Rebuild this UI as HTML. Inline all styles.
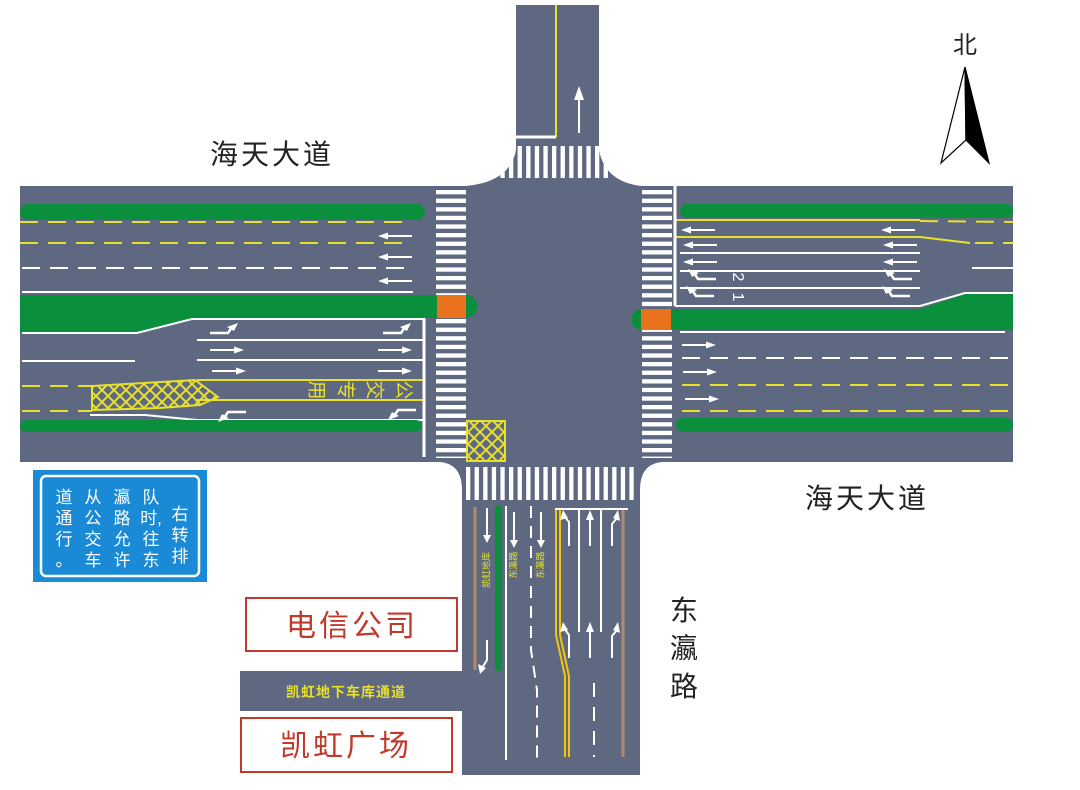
<!DOCTYPE html>
<html><head><meta charset="utf-8"><style>
html,body{margin:0;padding:0;background:#fff;}
svg{display:block;}
text{font-family:"Liberation Sans","Noto Sans CJK SC",sans-serif;}
</style></head><body>
<svg width="1080" height="790" viewBox="0 0 1080 790" xmlns="http://www.w3.org/2000/svg">
<defs>
<pattern id="hs" width="8.6" height="8.6" patternUnits="userSpaceOnUse" y="190"><rect width="30" height="4.3" fill="#fff"/></pattern>
<pattern id="vs" width="8.6" height="8.6" patternUnits="userSpaceOnUse" x="466"><rect width="4.3" height="40" fill="#fff"/></pattern>
<pattern id="xh" width="12" height="12" patternUnits="userSpaceOnUse"><path d="M0,0L12,12M12,0L0,12" stroke="#e8e02a" stroke-width="2"/></pattern>
<g id="ar"><line x1="0" y1="0" x2="24" y2="0" stroke="#fff" stroke-width="2"/><polygon points="24,-3.5 34,0 24,3.5" fill="#fff"/></g>
<g id="tl"><path d="M0,0 L18,0 L22,-6" stroke="#fff" stroke-width="2.5" fill="none"/><polygon points="17,-6 28,-10 24,-2" fill="#fff"/></g>
</defs>
<!-- roads -->
<rect x="20" y="186" width="993" height="276" fill="#5e6881"/>
<path d="M516,5 L599,5 L599,150 Q605,182 642,186 L466,186 Q510,182 516,150 Z" fill="#5e6881"/>
<path d="M440,462 Q462,464 462,490 L462,775 L640,775 L640,490 Q640,464 662,462 Z" fill="#5e6881"/>
<rect x="240" y="671" width="222" height="40" fill="#5e6881"/>
<!-- top road markings -->
<line x1="556" y1="5" x2="556" y2="137" stroke="#e8e02a" stroke-width="2"/>
<line x1="516" y1="137" x2="556" y2="137" stroke="#fff" stroke-width="3"/>
<line x1="579" y1="133" x2="579" y2="100" stroke="#fff" stroke-width="2"/><polygon points="574,100 579,86 584,100" fill="#fff"/>
<rect x="500" y="146" width="112" height="32" fill="url(#vs)"/>
<!-- crosswalks -->
<rect x="436" y="190" width="30" height="268" fill="url(#hs)"/>
<rect x="642" y="190" width="30" height="268" fill="url(#hs)"/>
<rect x="466" y="467" width="172" height="33" fill="url(#vs)"/>
<!-- LEFT road -->
<rect x="20" y="204" width="405" height="16" rx="8" fill="#0a8f3c"/>
<line x1="20" y1="222" x2="412" y2="222" stroke="#e8e02a" stroke-width="2" stroke-dasharray="18,10"/>
<line x1="20" y1="243" x2="412" y2="243" stroke="#e8e02a" stroke-width="2" stroke-dasharray="18,10"/>
<line x1="22" y1="268" x2="412" y2="268" stroke="#fff" stroke-width="2" stroke-dasharray="18,10"/>
<line x1="22" y1="292" x2="413" y2="292" stroke="#fff" stroke-width="2"/>
<path d="M20,295 L466,295 A11.5,11.5 0 0 1 466,318 L192,318 L137,333 L20,333 Z" fill="#0a8f3c"/>
<rect x="437" y="295" width="29" height="23" fill="#e8731c"/>
<path d="M22,333 L137,333 L192,319 L423,319" stroke="#fff" stroke-width="2" fill="none"/>
<line x1="197" y1="340" x2="423" y2="340" stroke="#fff" stroke-width="2"/>
<line x1="197" y1="360" x2="423" y2="360" stroke="#fff" stroke-width="2"/>
<line x1="22" y1="361" x2="135" y2="361" stroke="#fff" stroke-width="2"/>
<line x1="197" y1="380" x2="423" y2="380" stroke="#e8e02a" stroke-width="2"/>
<line x1="197" y1="400" x2="423" y2="400" stroke="#e8e02a" stroke-width="2"/>
<line x1="22" y1="386" x2="92" y2="386" stroke="#e8e02a" stroke-width="2" stroke-dasharray="18,10"/>
<line x1="22" y1="411" x2="92" y2="411" stroke="#e8e02a" stroke-width="2" stroke-dasharray="18,10"/>
<polygon points="92,386 195,380 218,397 200,405 160,408 92,410" fill="url(#xh)" stroke="#e8e02a" stroke-width="2"/>
<path d="M90,415 L145,415 L197,420 L423,420" stroke="#fff" stroke-width="2" fill="none"/>
<rect x="20" y="420" width="402" height="12" rx="6" fill="#0a8f3c"/>
<line x1="424" y1="318" x2="424" y2="457" stroke="#fff" stroke-width="3"/>
<use href="#ar" transform="translate(412,236) scale(-1,1)"/>
<use href="#ar" transform="translate(412,257) scale(-1,1)"/>
<use href="#ar" transform="translate(412,281) scale(-1,1)"/>
<use href="#ar" transform="translate(210,350)"/><use href="#ar" transform="translate(378,350)"/>
<use href="#ar" transform="translate(212,371)"/><use href="#ar" transform="translate(378,371)"/>
<use href="#tl" transform="translate(210,333)"/><use href="#tl" transform="translate(383,333)"/>
<use href="#tl" transform="translate(216,412) scale(-1,-1) translate(-30,0)"/>
<use href="#tl" transform="translate(386,410) scale(-1,-1) translate(-30,0)"/>
<g font-size="19" fill="#e8e02a" text-anchor="middle" dominant-baseline="central">
<text transform="translate(403,390) rotate(90)">公</text>
<text transform="translate(374,390) rotate(90)">交</text>
<text transform="translate(345,390) rotate(90)">专</text>
<text transform="translate(316,390) rotate(90)">用</text>
</g>
<!-- hatched box -->
<rect x="467" y="421" width="38" height="40" fill="url(#xh)" stroke="#e8e02a" stroke-width="2"/>
<!-- RIGHT road -->
<rect x="680" y="204" width="333" height="14" rx="7" fill="#0a8f3c"/>
<line x1="675" y1="220" x2="920" y2="220" stroke="#e8e02a" stroke-width="2"/>
<line x1="920" y1="221" x2="1013" y2="222" stroke="#e8e02a" stroke-width="2" stroke-dasharray="18,10"/>
<path d="M675,237 L920,237 L970,243" stroke="#e8e02a" stroke-width="2" fill="none"/>
<line x1="975" y1="243" x2="1013" y2="243" stroke="#e8e02a" stroke-width="2" stroke-dasharray="18,10"/>
<line x1="680" y1="253" x2="920" y2="253" stroke="#fff" stroke-width="2"/>
<line x1="680" y1="271" x2="920" y2="271" stroke="#fff" stroke-width="2"/>
<line x1="680" y1="288" x2="920" y2="288" stroke="#fff" stroke-width="2"/>
<line x1="972" y1="268" x2="1013" y2="268" stroke="#fff" stroke-width="2"/>
<path d="M642,309 L920,309 L965,294 L1013,294 L1013,330 L642,330 A10.5,10.5 0 0 1 642,309 Z" fill="#0a8f3c"/>
<path d="M675,306 L920,306 L965,293 L1013,293" stroke="#fff" stroke-width="2" fill="none"/>
<rect x="641" y="309" width="30" height="21" fill="#e8731c"/>
<line x1="675" y1="186" x2="675" y2="306" stroke="#fff" stroke-width="3"/>
<line x1="680" y1="332" x2="1005" y2="332" stroke="#fff" stroke-width="2"/>
<line x1="682" y1="358" x2="1013" y2="358" stroke="#fff" stroke-width="2" stroke-dasharray="18,10"/>
<line x1="682" y1="385" x2="1013" y2="385" stroke="#e8e02a" stroke-width="2" stroke-dasharray="18,10"/>
<line x1="682" y1="411" x2="1013" y2="411" stroke="#e8e02a" stroke-width="2" stroke-dasharray="18,10"/>
<rect x="676" y="418" width="337" height="14" rx="7" fill="#0a8f3c"/>
<use href="#ar" transform="translate(715,230) scale(-1,1)"/><use href="#ar" transform="translate(915,230) scale(-1,1)"/>
<use href="#ar" transform="translate(717,245) scale(-1,1)"/><use href="#ar" transform="translate(917,245) scale(-1,1)"/>
<use href="#ar" transform="translate(717,262) scale(-1,1)"/><use href="#ar" transform="translate(917,262) scale(-1,1)"/>
<use href="#tl" transform="translate(716,279) scale(-1,1)"/><use href="#tl" transform="translate(912,279) scale(-1,1)"/>
<use href="#tl" transform="translate(714,296) scale(-1,1)"/><use href="#tl" transform="translate(910,296) scale(-1,1)"/>
<text x="737" y="277" font-size="16" fill="#fff" transform="rotate(90 737 277)" text-anchor="middle" dominant-baseline="middle">2</text>
<text x="737" y="297" font-size="16" fill="#fff" transform="rotate(90 737 297)" text-anchor="middle" dominant-baseline="middle">1</text>
<use href="#ar" transform="translate(682,345)"/>
<use href="#ar" transform="translate(683,372)"/>
<use href="#ar" transform="translate(685,399)"/>
<!-- BOTTOM road -->
<line x1="475" y1="507" x2="475" y2="670" stroke="#b08a6a" stroke-width="3"/>
<line x1="623" y1="508" x2="623" y2="757" stroke="#b08a6a" stroke-width="3"/>
<rect x="495" y="505" width="7" height="166" rx="3" fill="#0a8f3c"/>
<line x1="506" y1="506" x2="506" y2="760" stroke="#fff" stroke-width="2"/>
<path d="M531,506 L531,650 L537,690 L537,760" stroke="#fff" stroke-width="2" stroke-dasharray="12,8" fill="none"/>
<path d="M556,508 L556,635 L565,676 L565,757" stroke="#f2c40e" stroke-width="2" fill="none"/>
<path d="M560,508 L560,635 L569,676 L569,757" stroke="#f2c40e" stroke-width="2" fill="none"/>
<line x1="555" y1="509" x2="628" y2="509" stroke="#fff" stroke-width="2"/>
<line x1="579" y1="509" x2="579" y2="632" stroke="#fff" stroke-width="2"/>
<line x1="601" y1="509" x2="601" y2="632" stroke="#fff" stroke-width="2"/>
<line x1="594" y1="683" x2="594" y2="757" stroke="#fff" stroke-width="2" stroke-dasharray="14,10"/>
<g stroke="#fff" stroke-width="2" fill="none">
<line x1="487" y1="508" x2="487" y2="535"/><line x1="514" y1="512" x2="514" y2="540"/><line x1="541" y1="512" x2="541" y2="540"/>
<path d="M569,546 L569,522 L564,516"/><path d="M590,546 L590,518"/><path d="M612,546 L612,524 L617,518"/>
<path d="M569,658 L569,635 L564,628"/><path d="M590,658 L590,630"/><path d="M612,658 L612,636 L617,630"/>
<path d="M487,640 L487,660 L482,668"/>
</g>
<g fill="#fff">
<polygon points="483,535 487,543 491,535"/><polygon points="510,540 514,548 518,540"/><polygon points="537,540 541,548 545,540"/>
<polygon points="560,520 563,510 568,518"/><polygon points="586,520 590,510 594,520"/><polygon points="613,518 618,510 620,521"/>
<polygon points="560,632 563,622 568,630"/><polygon points="586,632 590,622 594,632"/><polygon points="613,630 618,622 620,633"/>
<polygon points="478,664 480,674 486,668"/>
</g>
<text font-size="9" fill="#e8e02a" transform="translate(487,570) rotate(-90)" text-anchor="middle" dominant-baseline="middle">凯虹地库</text>
<text font-size="9" fill="#e8e02a" transform="translate(514,565) rotate(-90)" text-anchor="middle" dominant-baseline="middle">东瀛路</text>
<text font-size="9" fill="#e8e02a" transform="translate(541,565) rotate(-90)" text-anchor="middle" dominant-baseline="middle">东瀛路</text>
<!-- labels -->
<text x="272" y="164" font-size="28" fill="#222" text-anchor="middle" letter-spacing="3">海天大道</text>
<text x="867" y="508" font-size="28" fill="#222" text-anchor="middle" letter-spacing="3">海天大道</text>
<text x="684" y="620" font-size="28" fill="#222" text-anchor="middle">东</text>
<text x="684" y="658" font-size="28" fill="#222" text-anchor="middle">瀛</text>
<text x="684" y="696" font-size="28" fill="#222" text-anchor="middle">路</text>
<text x="965" y="53" font-size="24" fill="#222" text-anchor="middle">北</text>
<polygon points="965,67 941,163 966,140" fill="#fff" stroke="#000" stroke-width="1.2"/>
<polygon points="965,67 966,140 989,163" fill="#000" stroke="#000" stroke-width="1.2"/>
<!-- sign -->
<rect x="33" y="470" width="174" height="112" fill="#1a8ad6"/>
<rect x="41" y="476" width="158" height="100" rx="5" fill="none" stroke="#fff" stroke-width="2.5"/>
<g font-size="17" fill="#fff" text-anchor="middle">
<text x="180" y="520">右</text><text x="180" y="541">转</text><text x="180" y="562">排</text>
<text x="151" y="503">队</text><text x="151" y="524">时,</text><text x="151" y="545">往</text><text x="151" y="566">东</text>
<text x="122" y="503">瀛</text><text x="122" y="524">路</text><text x="122" y="545">允</text><text x="122" y="566">许</text>
<text x="93" y="503">从</text><text x="93" y="524">公</text><text x="93" y="545">交</text><text x="93" y="566">车</text>
<text x="64" y="503">道</text><text x="64" y="524">通</text><text x="64" y="545">行</text><text x="64" y="566">。</text>
</g>
<!-- buildings -->
<rect x="246" y="598" width="211" height="53" fill="#fff" stroke="#c0392b" stroke-width="2"/>
<text x="352" y="636" font-size="30" fill="#c0392b" text-anchor="middle" letter-spacing="3">电信公司</text>
<text x="346" y="697" font-size="14" fill="#e8e02a" text-anchor="middle" font-weight="bold" letter-spacing="1">凯虹地下车库通道</text>
<rect x="241" y="718" width="211" height="54" fill="#fff" stroke="#c0392b" stroke-width="2"/>
<text x="346" y="756" font-size="30" fill="#c0392b" text-anchor="middle" letter-spacing="3">凯虹广场</text>
</svg>
</body></html>
